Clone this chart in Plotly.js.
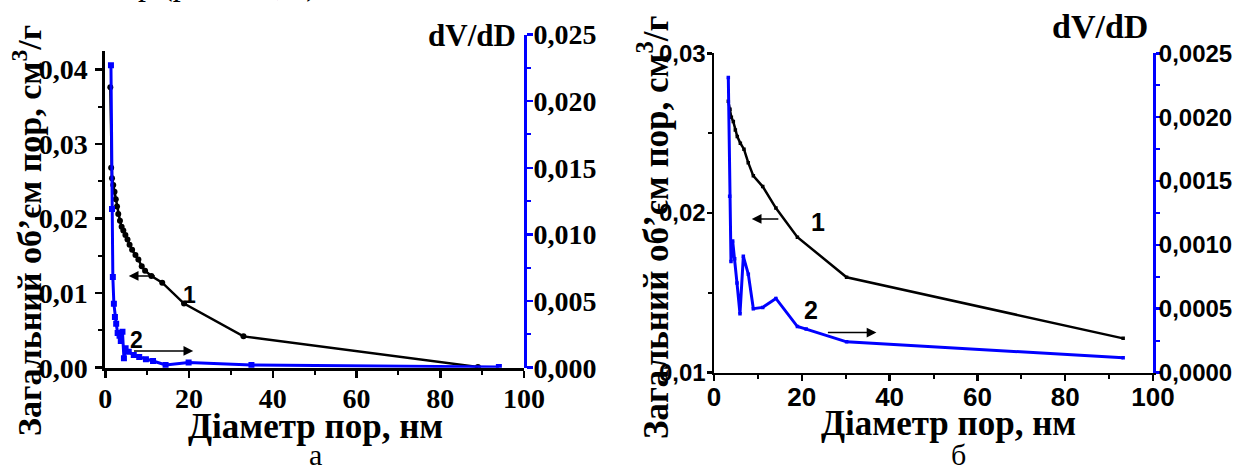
<!DOCTYPE html>
<html><head><meta charset="utf-8">
<script src="https://cdn.plot.ly/plotly-3.0.1.min.js"></script>
<style>html,body{margin:0;padding:0;background:#fff}#chart{width:1244px;height:472px}</style>
</head><body><div id="chart"></div>
<script>
// ---- Data: panel (а) ----
const diamA_V = [1.2, 1.4, 1.6, 1.9, 2.2, 2.5, 2.8, 3.1, 3.5, 3.9, 4.3, 4.8, 5.3, 5.8, 6.4, 7.2, 7.9, 8.7, 9.5, 11.0, 13.6, 18.8, 33.0, 89.0];
const volA =    [0.0376, 0.0268, 0.0254, 0.0245, 0.0236, 0.0226, 0.0216, 0.0206, 0.0197, 0.0189, 0.0184, 0.0178, 0.0172, 0.0165, 0.0158, 0.0151, 0.0145, 0.0136, 0.0130, 0.0123, 0.0114, 0.0086, 0.0042, 0.0001];
const diamA_d = [1.35, 1.6, 1.8, 2.05, 2.3, 2.6, 2.95, 3.4, 3.7, 4.1, 4.45, 4.85, 5.6, 6.8, 8.1, 9.7, 11.4, 14.4, 19.9, 34.9, 94.0];
const dvdA =    [0.0227, 0.0119, 0.0068, 0.0048, 0.0038, 0.0033, 0.0026, 0.0024, 0.0020, 0.0027, 0.0007, 0.00145, 0.0012, 0.00095, 0.0008, 0.00063, 0.0005, 0.00021, 0.00039, 0.00021, 0.00005];
// ---- Data: panel (б) ----
const diamB_V = [3.26, 3.64, 3.95, 4.4, 4.86, 5.3, 6.0, 6.83, 7.8, 8.96, 11.1, 14.1, 19.0, 30.2, 93.2];
const volB =    [0.0270, 0.0265, 0.0260, 0.02572, 0.0252, 0.02478, 0.02437, 0.02399, 0.02315, 0.02232, 0.02165, 0.0203, 0.01848, 0.01597, 0.01214];
const diamB_d = [3.26, 3.57, 3.87, 4.25, 4.71, 5.24, 5.92, 6.68, 7.82, 8.96, 11.1, 14.1, 19.0, 21.0, 30.2, 93.2];
const dvdB =    [0.00231, 0.00138, 0.00087, 0.00103, 0.00089, 0.0007, 0.00046, 0.00091, 0.00077, 0.0005, 0.00051, 0.00058, 0.00036, 0.00034, 0.00024, 0.000116];

// ---- Text ----
const yTitle = 'Загальний об’єм пор, см<sup>3</sup>/г';
const xTitle = 'Діаметр пор, нм';
const rightTitle = 'dV/dD';
const panelLabels = ['а', 'б'];
const curveLabels = ['1', '2'];

const W = 1244, H = 472;
const px = p => p / W, py = p => 1 - p / H;
const SERIF = 'Liberation Serif, Times New Roman, serif';
const SANS = 'Liberation Sans, Arial, sans-serif';
const BLUE = '#0000ff';

const traces = [
  {x: diamA_V, y: volA, xaxis: 'x', yaxis: 'y', mode: 'lines+markers', type: 'scatter',
   line: {color: '#000', width: 2.5}, marker: {symbol: 'circle', size: 6, color: '#000'}},
  {x: diamA_d, y: dvdA, xaxis: 'x', yaxis: 'y2', mode: 'lines+markers', type: 'scatter',
   line: {color: BLUE, width: 3}, marker: {symbol: 'square', size: 6, color: BLUE}},
  {x: diamB_V, y: volB, xaxis: 'x2', yaxis: 'y3', mode: 'lines+markers', type: 'scatter',
   line: {color: '#000', width: 2.5}, marker: {symbol: 'square', size: 3.5, color: '#000'}},
  {x: diamB_d, y: dvdB, xaxis: 'x2', yaxis: 'y4', mode: 'lines+markers', type: 'scatter',
   line: {color: BLUE, width: 3}, marker: {symbol: 'square', size: 3.5, color: BLUE}}
];

function ax(o) {
  return Object.assign({
    showgrid: false, zeroline: false, showline: true, linecolor: '#000', linewidth: 3,
    ticks: 'outside', ticklen: 7, tickwidth: 2.5, tickcolor: '#000', automargin: false,
    fixedrange: true
  }, o);
}
const serifTick = {family: SERIF, size: 28, color: '#000', weight: 'bold'};
const sansTickL = {family: SANS, size: 24, color: '#000', weight: 'bold'};
const sansTickR = {family: SANS, size: 24, color: '#000', weight: 'bold'};
const sansTickX = {family: SANS, size: 26, color: '#000', weight: 'bold'};

const layout = {
  width: W, height: H, margin: {l: 0, r: 0, t: 0, b: 0},
  paper_bgcolor: '#fff', plot_bgcolor: 'rgba(0,0,0,0)',
  showlegend: false, separators: ',.',
  xaxis: ax({domain: [px(105.3), px(524)], anchor: 'y', range: [0, 100], dtick: 20,
    tickfont: serifTick, ticklabelstandoff: -3,
    minor: {dtick: 10, ticks: 'outside', ticklen: 4, tickwidth: 2, tickcolor: '#000'}}),
  yaxis: ax({domain: [py(367.7), py(50.7)], anchor: 'x', range: [0, 0.0425], dtick: 0.01, tickformat: '.2f',
    tickfont: serifTick, ticklabelstandoff: 2,
    minor: {dtick: 0.005, ticks: 'outside', ticklen: 4, tickwidth: 2, tickcolor: '#000'}}),
  yaxis2: ax({domain: [py(367.7), py(34.5)], anchor: 'x', side: 'right', range: [0, 0.025], dtick: 0.005,
    tickformat: '.3f', linecolor: BLUE, tickcolor: BLUE, tickfont: serifTick, ticklen: 6, ticklabelstandoff: -5,
    minor: {dtick: 0.0025, ticks: 'outside', ticklen: 4, tickwidth: 2, tickcolor: BLUE}}),
  xaxis2: ax({domain: [px(714), px(1153)], anchor: 'y3', range: [0, 100], dtick: 20, linewidth: 2.5,
    tickfont: sansTickX, ticklen: 6, ticklabelstandoff: -6,
    minor: {dtick: 10, ticks: 'outside', ticklen: 4, tickwidth: 2, tickcolor: '#000'}}),
  yaxis3: ax({domain: [py(372.5), py(53.3)], anchor: 'x2', range: [0.01, 0.03], dtick: 0.01, tickformat: '.2f',
    linewidth: 2.5, ticklen: 5, tickfont: sansTickL, ticklabelstandoff: -4,
    minor: {dtick: 0.005, ticks: 'outside', ticklen: 4, tickwidth: 2, tickcolor: '#000'}}),
  yaxis4: ax({overlaying: 'y3', anchor: 'x2', side: 'right', range: [0, 0.0025], dtick: 0.0005, tickformat: '.4f',
    linewidth: 3, ticklen: 5, linecolor: BLUE, tickcolor: BLUE, tickfont: sansTickR, ticklabelstandoff: -7,
    minor: {dtick: 0.00025, ticks: 'outside', ticklen: 4, tickwidth: 2, tickcolor: BLUE}}),
  annotations: [
    // axis titles
    {xref: 'paper', yref: 'paper', x: px(27), y: py(231), text: yTitle, textangle: -90, showarrow: false,
     xanchor: 'center', yanchor: 'middle', font: {family: SERIF, size: 34, color: '#000', weight: 'bold'}},
    {xref: 'paper', yref: 'paper', x: px(653), y: py(228), text: yTitle, textangle: -90, showarrow: false,
     xanchor: 'center', yanchor: 'middle', font: {family: SERIF, size: 35, color: '#000', weight: 'bold'}},
    {xref: 'paper', yref: 'paper', x: px(315), y: py(426), text: xTitle, showarrow: false,
     xanchor: 'center', yanchor: 'middle', font: {family: SERIF, size: 35, color: '#000', weight: 'bold'}},
    {xref: 'paper', yref: 'paper', x: px(948), y: py(423), text: xTitle, showarrow: false,
     xanchor: 'center', yanchor: 'middle', font: {family: SERIF, size: 35, color: '#000', weight: 'bold'}},
    {xref: 'paper', yref: 'paper', x: px(518), y: py(35), text: rightTitle, showarrow: false,
     xanchor: 'right', yanchor: 'middle', font: {family: SERIF, size: 31, color: '#000', weight: 'bold'}},
    {xref: 'paper', yref: 'paper', x: px(1150), y: py(27), text: rightTitle, showarrow: false,
     xanchor: 'right', yanchor: 'middle', font: {family: SERIF, size: 34, color: '#000', weight: 'bold'}},
    // panel letters
    {xref: 'paper', yref: 'paper', x: px(315), y: py(473.5), text: panelLabels[0], showarrow: false,
     xanchor: 'center', yanchor: 'bottom', font: {family: SERIF, size: 30, color: '#000'}},
    {xref: 'paper', yref: 'paper', x: px(958), y: py(473.5), text: panelLabels[1], showarrow: false,
     xanchor: 'center', yanchor: 'bottom', font: {family: SERIF, size: 30, color: '#000'}},
    // fragment of text above (cut)
    {xref: 'paper', yref: 'paper', x: px(136), y: py(-16), text: 'р (рис. 3.1, а)', showarrow: false,
     xanchor: 'left', yanchor: 'middle', font: {family: SERIF, size: 32, color: '#000'}},
    // curve labels
    {xref: 'x', yref: 'y', x: 20, y: 0.0098, text: curveLabels[0], showarrow: false,
     font: {family: SANS, size: 23, color: '#000', weight: 'bold'}},
    {xref: 'x', yref: 'y', x: 7.5, y: 0.0037, text: curveLabels[1], showarrow: false,
     font: {family: SANS, size: 23, color: '#000', weight: 'bold'}},
    {xref: 'x2', yref: 'y3', x: 23.7, y: 0.01945, text: curveLabels[0], showarrow: false,
     font: {family: SANS, size: 25, color: '#000', weight: 'bold'}},
    {xref: 'x2', yref: 'y3', x: 22, y: 0.0139, text: curveLabels[1], showarrow: false,
     font: {family: SANS, size: 25, color: '#000', weight: 'bold'}},
    // arrows
    {xref: 'x', yref: 'y', axref: 'x', ayref: 'y', x: 5.6, y: 0.0123, ax: 12.2, ay: 0.0123, text: '',
     showarrow: true, arrowhead: 2, arrowsize: 1.3, arrowwidth: 1.5, arrowcolor: '#000'},
    {xref: 'x', yref: 'y', axref: 'x', ayref: 'y', x: 21, y: 0.00224, ax: 6.5, ay: 0.00224, text: '',
     showarrow: true, arrowhead: 2, arrowsize: 1.3, arrowwidth: 1.5, arrowcolor: '#000'},
    {xref: 'x2', yref: 'y3', axref: 'x2', ayref: 'y3', x: 8.6, y: 0.01962, ax: 15, ay: 0.01962, text: '',
     showarrow: true, arrowhead: 2, arrowsize: 1.3, arrowwidth: 1.5, arrowcolor: '#000'},
    {xref: 'x2', yref: 'y3', axref: 'x2', ayref: 'y3', x: 37, y: 0.0125, ax: 25.6, ay: 0.0125, text: '',
     showarrow: true, arrowhead: 2, arrowsize: 1.3, arrowwidth: 1.5, arrowcolor: '#000'}
  ]
};

Plotly.newPlot('chart', traces, layout, {staticPlot: true, displayModeBar: false});
</script></body></html>
